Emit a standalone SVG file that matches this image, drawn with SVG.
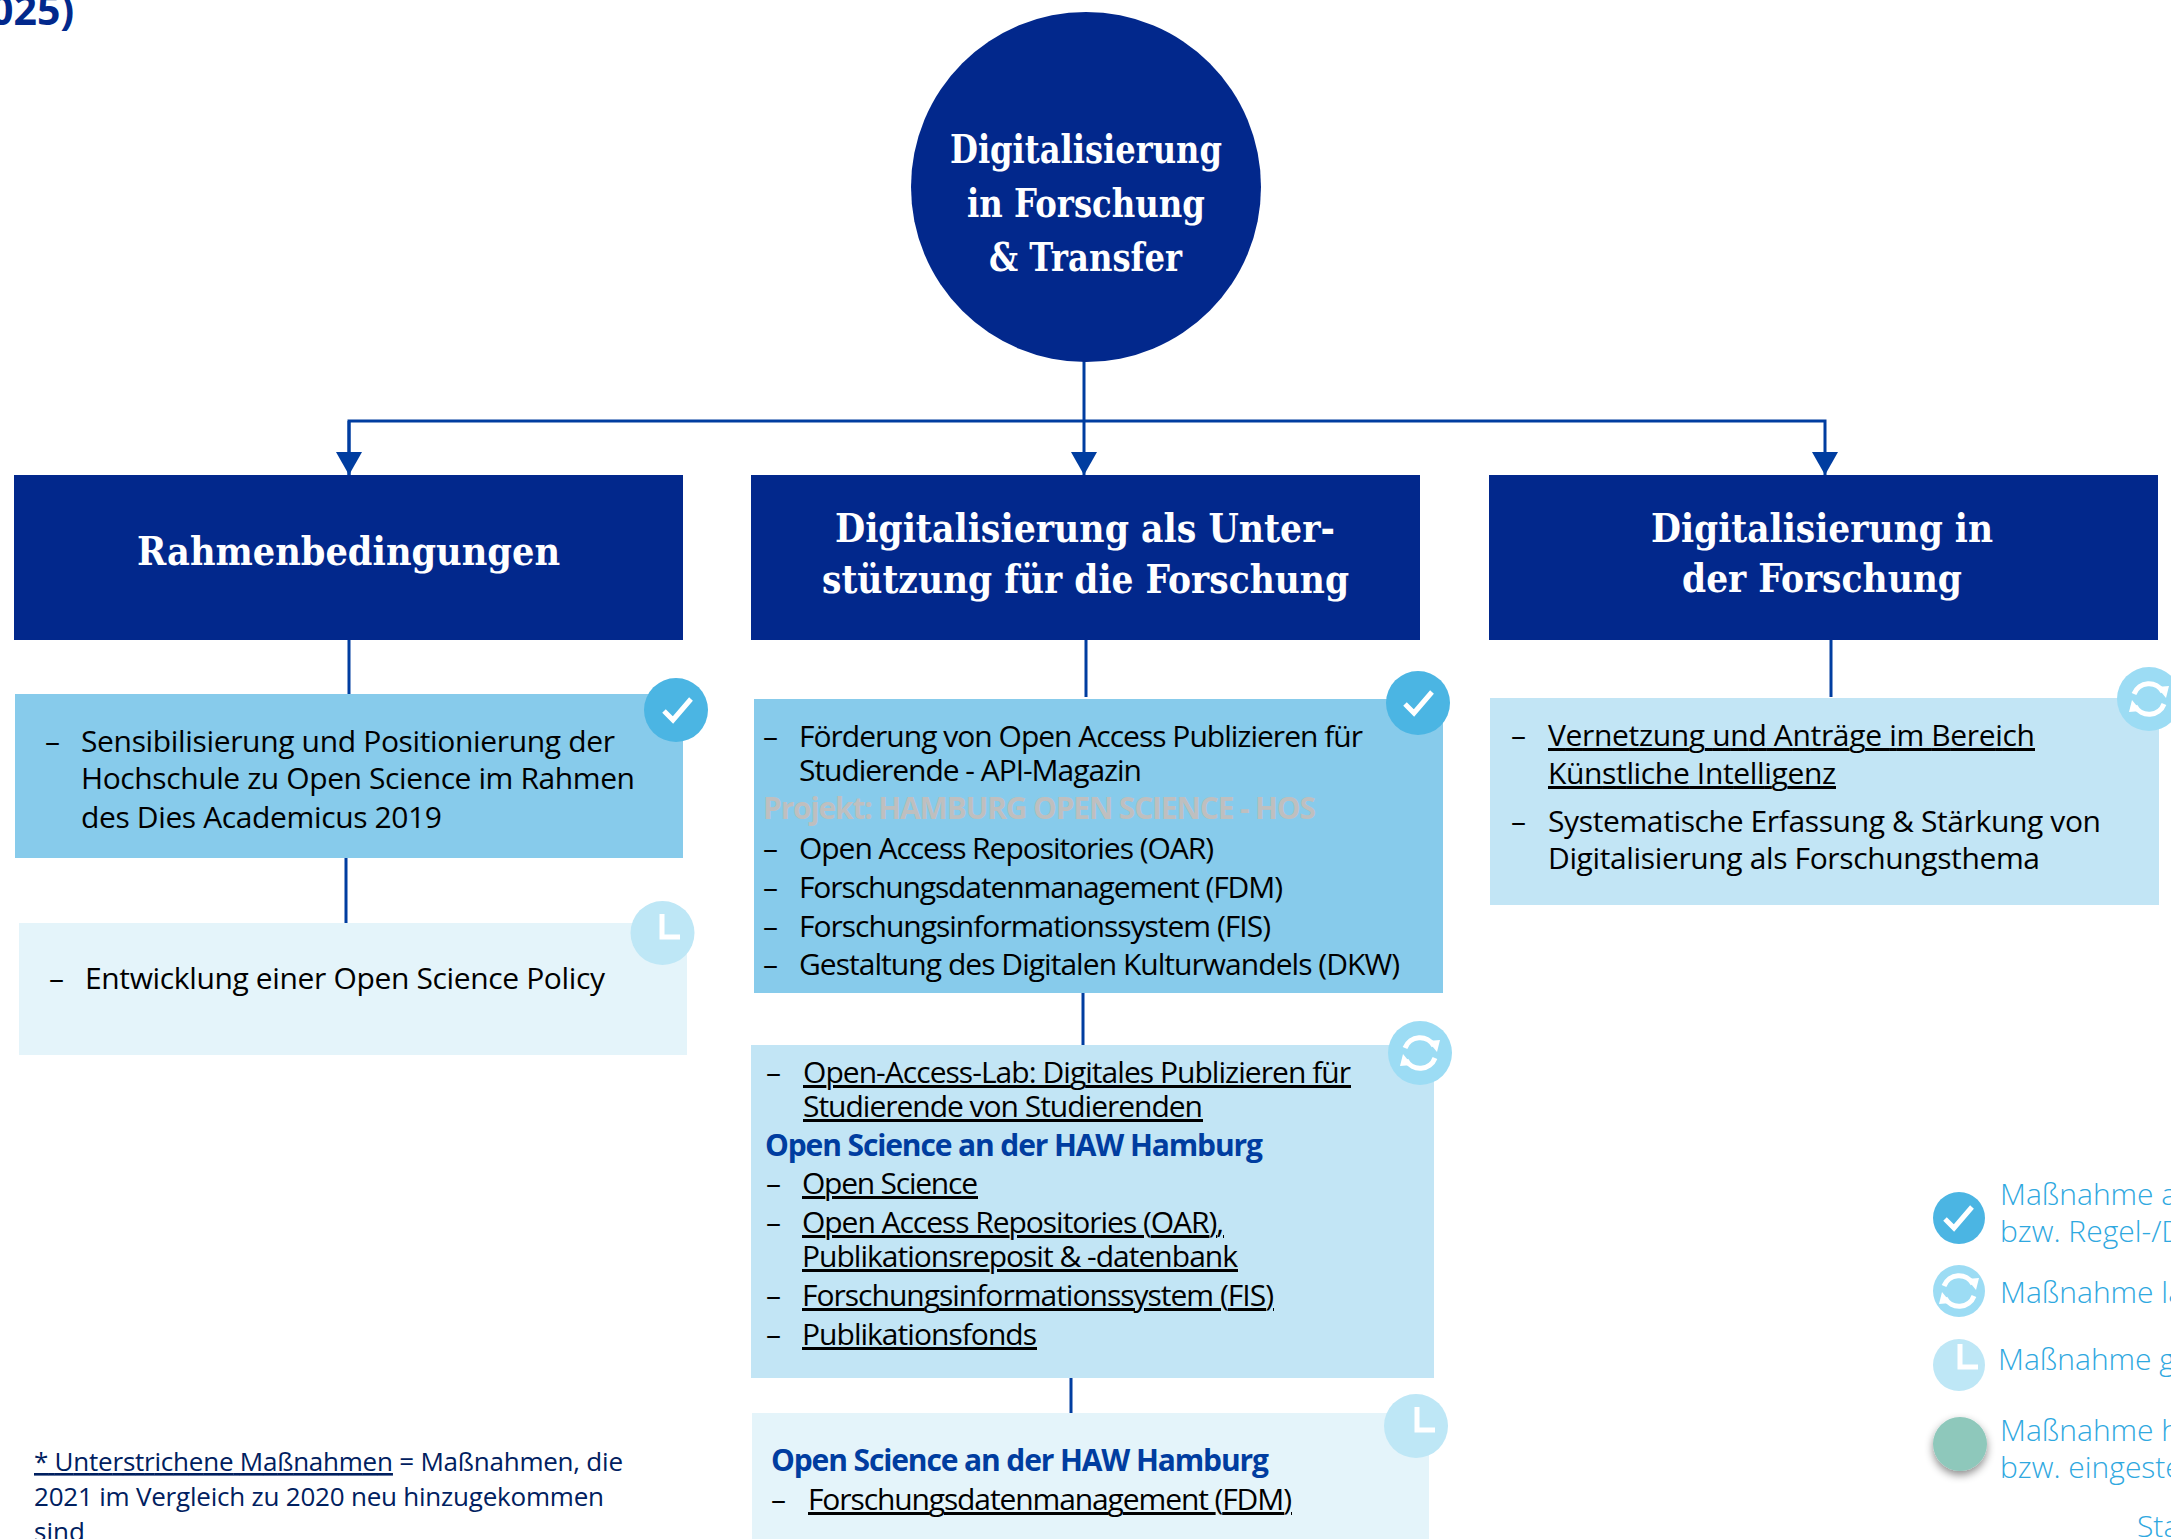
<svg xmlns="http://www.w3.org/2000/svg" width="2171" height="1539" viewBox="0 0 2171 1539">
<style>
text{font-family:"Open Sans","Liberation Sans",sans-serif;white-space:pre}
.h{font-family:"DejaVu Serif","Liberation Serif",serif;font-weight:700;fill:#fff;font-size:40px}
.c{font-family:"DejaVu Serif","Liberation Serif",serif;font-weight:700;fill:#fff;font-size:39px}
.t{font-size:30px;fill:#000}
.u{text-decoration:underline}
.b{font-size:30px;font-weight:700;fill:#003da0}
.l{font-size:30px;font-weight:300;fill:#2fa8df}
.f{font-size:26px;fill:#002060}
.hd{fill:#02288c}
.con{stroke:#003da0;fill:none;stroke-width:3}
.sym{fill:none;stroke:#fff;stroke-width:5}
</style>
<defs>
<marker id="a" markerUnits="userSpaceOnUse" markerWidth="23" markerHeight="26" refX="23" refY="13" orient="auto" viewBox="0 0 23 26"><path d="M0 0L23 13L0 26Z" fill="#003da0"/></marker>
<g id="chk"><path class="sym" d="M-14 1L-5 10L13 -11"/></g>
<g id="ref"><path class="sym" d="M-15 -5A16 16 0 0 1 14 -7M15 5A16 16 0 0 1 -14 7"/><path d="M8 -12L20 -13L17 -1ZM-8 12L-20 13L-17 1Z" fill="#fff"/></g>
<g id="clk"><path class="sym" d="M-3 -19V4H15"/></g>
<filter id="sh" x="-30%" y="-30%" width="160%" height="170%"><feDropShadow dx="0" dy="4" stdDeviation="4" flood-color="#000" flood-opacity=".45"/></filter>
</defs>
<rect width="2171" height="1539" fill="#fff"/>
<g id="connectors">
<path class="con" d="M1084 361V475" marker-end="url(#a)"/>
<path class="con" d="M349 475V421H1825V475" marker-end="url(#a)"/>
<path class="con" d="M349 421V475" marker-end="url(#a)"/>
<path class="con" d="M349 640V694M346 858V925M1086 640V697M1083 993V1045M1071 1378V1413M1831 640V697"/>
</g>
<g id="title"><text x="-10" y="25" font-size="41" font-weight="700" fill="#02288c">025)</text></g>
<g id="root"><circle cx="1086" cy="187" r="175" class="hd"/>
<text class="c" x="950" y="163" textLength="272" lengthAdjust="spacingAndGlyphs">Digitalisierung</text>
<text class="c" x="967" y="217" textLength="238" lengthAdjust="spacingAndGlyphs">in Forschung</text>
<text class="c" x="989" y="271" textLength="193" lengthAdjust="spacingAndGlyphs">&amp; Transfer</text></g>
<g id="h1"><rect x="14" y="475" width="669" height="165" class="hd"/><text class="h" x="137" y="565" textLength="423" lengthAdjust="spacingAndGlyphs">Rahmenbedingungen</text></g>
<g id="h2"><rect x="751" y="475" width="669" height="165" class="hd"/><text class="h" x="835" y="542" textLength="500" lengthAdjust="spacingAndGlyphs">Digitalisierung als Unter-</text><text class="h" x="822" y="593" textLength="527" lengthAdjust="spacingAndGlyphs">stützung für die Forschung</text></g>
<g id="h3"><rect x="1489" y="475" width="669" height="165" class="hd"/><text class="h" x="1651" y="542" textLength="342" lengthAdjust="spacingAndGlyphs">Digitalisierung in</text><text class="h" x="1682" y="592" textLength="280" lengthAdjust="spacingAndGlyphs">der Forschung</text></g>

<g id="a1"><rect x="15" y="694" width="668" height="164" fill="#87cbeb"/>
<text class="t" x="45" y="752">–</text>
<text class="t" x="81" y="752" textLength="534">Sensibilisierung und Positionierung der</text>
<text class="t" x="81" y="789" textLength="554">Hochschule zu Open Science im Rahmen</text>
<text class="t" x="81" y="828" textLength="361">des Dies Academicus 2019</text>
<circle cx="676" cy="710" r="32" fill="#4bb5e3"/><use href="#chk" x="678" y="710"/></g>
<g id="a2"><rect x="19" y="923" width="668" height="132" fill="#e4f4fa"/>
<text class="t" x="49" y="989">–</text>
<text class="t" x="85" y="989" textLength="520">Entwicklung einer Open Science Policy</text>
<circle cx="662.500" cy="933" r="32" fill="#bee7f6"/><use href="#clk" x="665" y="933"/></g>

<g id="b1"><rect x="754" y="699" width="689" height="294" fill="#87cbeb"/>
<text class="t" x="763" y="747">–</text><text class="t" x="799" y="747" textLength="564">Förderung von Open Access Publizieren für</text>
<text class="t" x="799" y="781" textLength="343">Studierende - API-Magazin</text>
<text class="t" x="763" y="819" textLength="553" font-weight="700" style="fill:#bfbfbf">Projekt: HAMBURG OPEN SCIENCE - HOS</text>
<text class="t" x="763" y="859">–</text><text class="t" x="799" y="859" textLength="415">Open Access Repositories (OAR)</text>
<text class="t" x="763" y="898">–</text><text class="t" x="799" y="898" textLength="484">Forschungsdatenmanagement (FDM)</text>
<text class="t" x="763" y="937">–</text><text class="t" x="799" y="937" textLength="472">Forschungsinformationssystem (FIS)</text>
<text class="t" x="763" y="975">–</text><text class="t" x="799" y="975" textLength="601">Gestaltung des Digitalen Kulturwandels (DKW)</text>
<circle cx="1418" cy="703" r="32" fill="#4bb5e3"/><use href="#chk" x="1419" y="703"/></g>

<g id="b2"><rect x="751" y="1045" width="683" height="333" fill="#c2e5f5"/>
<text class="t" x="766" y="1083">–</text><text class="t u" x="803" y="1083" textLength="548">Open-Access-Lab: Digitales Publizieren für</text>
<text class="t u" x="803" y="1117" textLength="400">Studierende von Studierenden</text>
<text class="b" x="765" y="1156" textLength="498">Open Science an der HAW Hamburg</text>
<text class="t" x="766" y="1194">–</text><text class="t u" x="802" y="1194" textLength="176">Open Science</text>
<text class="t" x="766" y="1233">–</text><text class="t u" x="802" y="1233" textLength="422">Open Access Repositories (OAR),</text>
<text class="t u" x="802" y="1267" textLength="436">Publikationsreposit &amp; -datenbank</text>
<text class="t" x="766" y="1306">–</text><text class="t u" x="802" y="1306" textLength="472">Forschungsinformationssystem (FIS)</text>
<text class="t" x="766" y="1345">–</text><text class="t u" x="802" y="1345" textLength="235">Publikationsfonds</text>
<circle cx="1420" cy="1053" r="32" fill="#9cdcf4"/><use href="#ref" x="1420" y="1053"/></g>

<g id="b3"><rect x="752" y="1413" width="677" height="126" fill="#e4f4fa"/>
<text class="b" x="771" y="1471" textLength="498">Open Science an der HAW Hamburg</text>
<text class="t" x="771" y="1510">–</text><text class="t u" x="808" y="1510" textLength="484">Forschungsdatenmanagement (FDM)</text>
<circle cx="1416" cy="1426" r="32" fill="#bee7f6"/><use href="#clk" x="1420" y="1426"/></g>

<g id="c1"><rect x="1490" y="698" width="669" height="207" fill="#c2e5f5"/>
<text class="t" x="1511" y="746">–</text><text class="t u" x="1548" y="746" textLength="487">Vernetzung und Anträge im Bereich</text>
<text class="t u" x="1548" y="784" textLength="288">Künstliche Intelligenz</text>
<text class="t" x="1511" y="832">–</text><text class="t" x="1548" y="832" textLength="553">Systematische Erfassung &amp; Stärkung von</text>
<text class="t" x="1548" y="869" textLength="492">Digitalisierung als Forschungsthema</text>
<circle cx="2149" cy="699" r="32" fill="#9cdcf4"/><use href="#ref" x="2149" y="699"/></g>

<g id="legend">
<circle cx="1959" cy="1218" r="26" fill="#4bb5e3"/><use href="#chk" x="1959" y="1218"/>
<circle cx="1959" cy="1291" r="26" fill="#9cdcf4"/><use href="#ref" x="1959" y="1291"/>
<circle cx="1959" cy="1365" r="26" fill="#bee7f6"/><use href="#clk" x="1963" y="1363"/>
<circle cx="1960" cy="1444" r="27" fill="#8ec8bb" filter="url(#sh)"/>
<text class="l" x="2000" y="1205">Maßnahme a</text>
<text class="l" x="2000" y="1242">bzw. Regel-/D</text>
<text class="l" x="2000" y="1303">Maßnahme la</text>
<text class="l" x="1998" y="1370">Maßnahme g</text>
<text class="l" x="2000" y="1441">Maßnahme h</text>
<text class="l" x="2000" y="1478">bzw. eingeste</text>
<text class="l" x="2137" y="1537">Sta</text>
</g>
<g id="footnote">
<text class="f" x="34" y="1471" textLength="589"><tspan class="u">* Unterstrichene Maßnahmen</tspan> = Maßnahmen, die</text>
<text class="f" x="34" y="1506" textLength="570">2021 im Vergleich zu 2020 neu hinzugekommen</text>
<text class="f" x="34" y="1541">sind</text>
</g>
</svg>
